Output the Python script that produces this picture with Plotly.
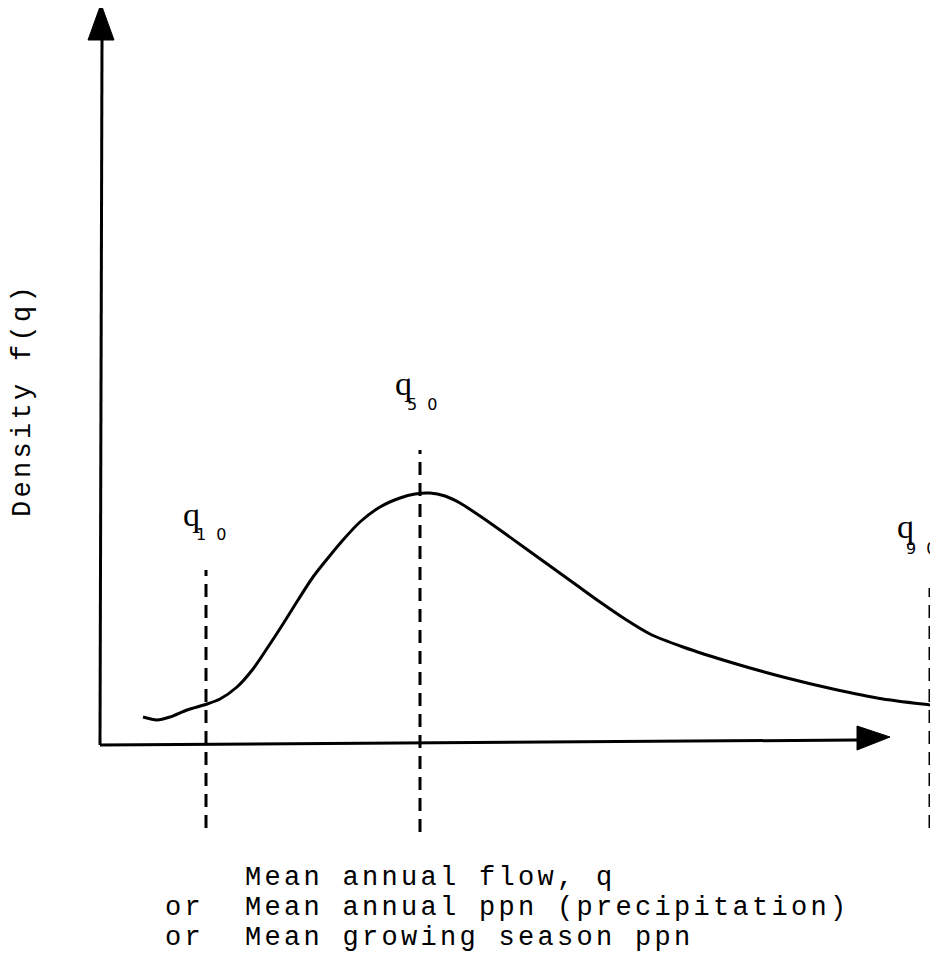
import plotly.graph_objects as go

# ---- data (q in arbitrary flow units, density in arbitrary units) ----
q_values = [43, 57, 70, 87, 107, 120, 137, 153, 168, 183, 198, 213, 228, 243,
            260, 280, 300, 315, 330, 345, 360, 380, 400, 425, 450, 475, 500,
            525, 550, 583, 633, 683, 733, 783, 830, 838]
density = [0.28, 0.25, 0.28, 0.35, 0.41, 0.46, 0.58, 0.76, 0.98, 1.21, 1.45,
           1.68, 1.87, 2.05, 2.23, 2.38, 2.47, 2.51, 2.52, 2.49, 2.42, 2.29,
           2.15, 1.97, 1.79, 1.61, 1.43, 1.26, 1.11, 0.98, 0.82, 0.68, 0.56,
           0.46, 0.40, 0.39]

pct_names = ["1 0", "5 0", "9 0"]
pct_q = [106, 320, 830]
pct_top = [1.75, 2.95, 1.57]
pct_bottom = [-0.83, -0.87, -0.83]
q_label_x = [91, 303, 805]
q_label_y = [2.31, 3.62, 2.19]
sub_label_x = [112, 323, 822]
sub_label_y = [2.11, 3.41, 1.97]

y_title = "Density f(q)"
x_title_lines = ["Mean annual flow, q",
                 "Mean annual ppn (precipitation)",
                 "Mean growing season ppn"]
x_title_prefix = ["", "or", "or"]

# axis geometry (data units)
y_axis_top = 7.05
x_axis_end = 757

MONO = "Liberation Mono"
ink = "black"
SPACED = '<span style="letter-spacing:3.3px">{}</span>'

fig = go.Figure()

# density curve
fig.add_trace(go.Scatter(x=q_values, y=density, mode="lines",
                         line=dict(color=ink, width=3, shape="spline", smoothing=0.7),
                         hoverinfo="skip", showlegend=False))

# percentile dashed lines
for qx, yt, yb in zip(pct_q, pct_top, pct_bottom):
    fig.add_trace(go.Scatter(x=[qx, qx], y=[yb, yt], mode="lines",
                             line=dict(color=ink, width=3, dash="13px,8px"),
                             hoverinfo="skip", showlegend=False))

shapes = [
    # y axis
    dict(type="line", xref="x", yref="y", x0=0, y0=0, x1=2, y1=y_axis_top,
         line=dict(color=ink, width=3)),
    # x axis
    dict(type="line", xref="x", yref="y", x0=0, y0=0, x1=x_axis_end, y1=0.05,
         line=dict(color=ink, width=3)),
    # y arrowhead
    dict(type="path", xref="x", yref="y",
         path=f"M -12,{y_axis_top} L 14,{y_axis_top} L 1,{y_axis_top + 0.36} Z",
         fillcolor=ink, line=dict(color=ink, width=1)),
    # x arrowhead
    dict(type="path", xref="x", yref="y",
         path=f"M {x_axis_end},0.19 L {x_axis_end},-0.05 L {x_axis_end + 33},0.08 Z",
         fillcolor=ink, line=dict(color=ink, width=1)),
]

annotations = []
for name, qx, qy, sx, sy in zip(pct_names, q_label_x, q_label_y, sub_label_x, sub_label_y):
    annotations.append(dict(x=qx, y=qy, xref="x", yref="y", text="q",
                            showarrow=False, xanchor="center", yanchor="middle",
                            font=dict(family="Liberation Serif", size=34, color=ink)))
    annotations.append(dict(x=sx, y=sy, xref="x", yref="y",
                            text=f'<span style="letter-spacing:2.5px">{name}</span>',
                            showarrow=False, xanchor="center", yanchor="middle",
                            font=dict(family="DejaVu Sans", size=16, color=ink)))

# y-axis title
annotations.append(dict(x=-77, y=3.45, xref="x", yref="y",
                        text=SPACED.format(y_title),
                        textangle=-90, showarrow=False, xanchor="center", yanchor="middle",
                        font=dict(family=MONO, size=27, color=ink)))

# x-axis title lines
for i, (pre, line) in enumerate(zip(x_title_prefix, x_title_lines)):
    yy = -1.33 - 0.30 * i
    annotations.append(dict(x=143, y=yy, xref="x", yref="y",
                            text=SPACED.format(line),
                            showarrow=False, xanchor="left", yanchor="middle",
                            font=dict(family=MONO, size=27, color=ink)))
    if pre:
        annotations.append(dict(x=63, y=yy, xref="x", yref="y",
                                text=SPACED.format(pre),
                                showarrow=False, xanchor="left", yanchor="middle",
                                font=dict(family=MONO, size=27, color=ink)))

fig.update_layout(
    width=938, height=966,
    margin=dict(l=0, r=0, t=0, b=0),
    paper_bgcolor="white", plot_bgcolor="white",
    xaxis=dict(range=[-92, 846], visible=False, fixedrange=True),
    yaxis=dict(range=[-2.29, 7.37], visible=False, fixedrange=True),
    shapes=shapes, annotations=annotations, showlegend=False,
)

fig.write_html("out.html")
